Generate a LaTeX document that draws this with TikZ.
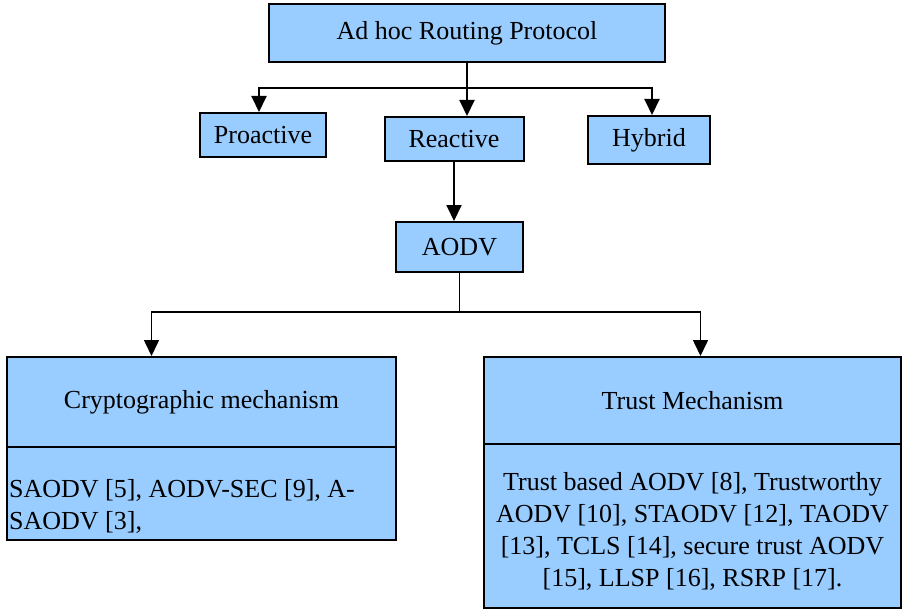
\documentclass[tikz,border=0pt]{standalone}
\usepackage{fontspec}
\setmainfont{Liberation Serif}
\usetikzlibrary{arrows.meta}

\definecolor{boxblue}{HTML}{99CCFF}

\begin{document}
\begin{tikzpicture}[x=1pt, y=-1pt,
    box/.style={draw, line width=2pt, fill=boxblue, inner sep=0pt,
        font=\fontsize{26}{32}\selectfont},
    link/.style={line width=2pt, -{Triangle[length=16pt,width=15pt]}}]
        \useasboundingbox (0,0) rectangle (903,610);

        \node[
            box,
            minimum width=396pt,
            minimum height=58pt
        ](top) at (467,33){Ad hoc Routing Protocol};

        \node[
            box,
            minimum width=126pt,
            minimum height=44pt
        ](pro) at (263,135){Proactive};

        \node[
            box,
            minimum width=139pt,
            minimum height=44pt
        ](rea) at (454,139){Reactive};

        \node[
            box,
            minimum width=122pt,
            minimum height=48pt
        ](hyb) at (649,140){Hybrid};

        \node[
            box,
            minimum width=127pt,
            minimum height=50pt
        ](aodv) at (459.5,247){AODV};

        % left column
        \node[
            box,
            minimum width=389pt,
            minimum height=90pt
        ](cryhead) at (201.5,402){Cryptographic mechanism};

        \node[
            box,
            minimum width=389pt,
            minimum height=93pt
        ](crylist) at (201.5,493.5){};
        \node[
            font=\fontsize{26}{32}\selectfont,
            align=left,
            anchor=west,
            inner sep=0pt
        ](crytext) at (9,506){SAODV [5], AODV-SEC [9], A-\\SAODV [3],};

        % right column
        \node[
            box,
            minimum width=417pt,
            minimum height=87pt
        ](trusthead) at (692.5,400.5){Trust Mechanism};

        \node[
            box,
            minimum width=417pt,
            minimum height=164pt
        ](trustlist) at (692.5,526){};
        \node[
            font=\fontsize{26}{32}\selectfont,
            align=center,
            inner sep=0pt
        ](trusttext) at (692.5,531){Trust based AODV [8], Trustworthy\\
            AODV [10], STAODV [12], TAODV\\
            {[13], TCLS [14], secure trust AODV}\\
            {[15], LLSP [16], RSRP [17].}};

        \coordinate (split) at (top.south |- 0,88);
        \coordinate (fork) at (aodv.south |- 0,312);

        \draw [link](top.south)--(top.south |- rea.north);
        \draw [link](split)-|([xshift=-4pt]pro.north);
        \draw [link](split)-|([xshift=3pt]hyb.north);

        \draw [link](rea.south)--(rea.south |- aodv.north);

        \draw [line width=1.6pt](aodv.south)--(fork);
        \draw [link, line width=1.6pt](fork)-|([xshift=-50pt]cryhead.north);
        \draw [link, line width=1.6pt](fork)-|([xshift=8pt]trusthead.north);
    \end{tikzpicture}
\end{document}
